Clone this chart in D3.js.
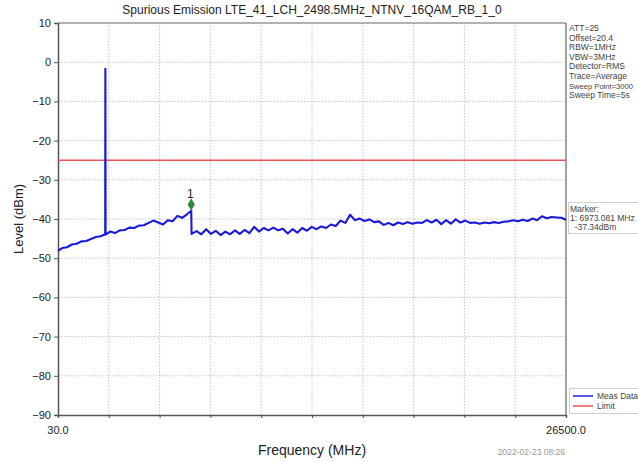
<!DOCTYPE html>
<html><head><meta charset="utf-8">
<script src="https://cdn.jsdelivr.net/npm/d3@7/dist/d3.min.js"></script>
<style>body{margin:0;background:#fff;}svg{display:block;font-family:"Liberation Sans",Arial,sans-serif;}</style>
</head><body><svg id="c" width="638" height="462"></svg>
<script>
const title = "Spurious Emission LTE_41_LCH_2498.5MHz_NTNV_16QAM_RB_1_0";
const freqStart = 30.0, freqStop = 26500.0;
const yTicks = [10, 0, -10, -20, -30, -40, -50, -60, -70, -80, -90];
const limitDbm = -25;
const traceFreq = [30,250,500,750,1000,1250,1500,1750,2000,2250,2490,2498.5,2510,2750,3000,3250,3500,3750,4000,4250,4500,4750,5000,5250,5500,5750,6000,6250,6500,6750,6973.081,6990,
7250,7500,7750,8000,8250,8500,8750,9000,9250,9500,9750,10000,10250,10500,10750,11000,11250,11500,11750,12000,12250,12500,12750,13000,13250,13500,13750,14000,14250,14500,14750,15000,15250,15500,15750,16000,16250,16500,16750,17000,17250,17500,17750,18000,18250,18500,18750,19000,19250,19500,19750,20000,20250,20500,20750,21000,21250,21500,21750,22000,22250,22500,22750,23000,23250,23500,23750,24000,24250,24500,24750,25000,25250,25500,25750,26000,26250,26500];
const traceLevel = [-48.1,-47.4,-47.2,-46.5,-46.3,-45.7,-45.6,-45.1,-44.6,-44.4,-43.9,-1.7,-44.0,-43.2,-43.6,-42.9,-42.8,-42.2,-42.3,-41.7,-41.6,-41.0,-40.4,-40.9,-41.4,-40.3,-40.6,-39.2,-39.7,-38.8,-37.9,-43.8,
-43.1,-43.9,-42.6,-43.8,-43.0,-44.1,-43.2,-43.9,-42.9,-43.8,-42.8,-43.6,-42.0,-43.2,-42.3,-42.9,-42.2,-42.9,-42.5,-43.7,-42.6,-43.5,-42.3,-43.0,-42.0,-42.6,-41.9,-42.3,-41.4,-41.8,-40.4,-41.0,-38.9,-40.3,-39.9,-40.5,-40.1,-40.8,-40.6,-41.5,-41.0,-41.6,-40.9,-41.3,-40.8,-41.2,-40.9,-41.0,-40.3,-40.9,-40.2,-41.3,-40.3,-41.2,-40.1,-40.9,-40.4,-41.0,-40.9,-41.2,-40.9,-41.1,-40.8,-41.0,-40.7,-40.6,-40.3,-40.6,-40.2,-40.5,-39.9,-40.3,-39.3,-39.8,-39.5,-39.6,-39.7,-40.2];
const markerFreq = 6973.081, markerLevel = -37.34;
const infoLines = ["ATT=25","Offset=20.4","RBW=1MHz","VBW=3MHz","Detector=RMS","Trace=Average","Sweep Point=3000","Sweep Time=5s"];
const markerLines = ["Marker:","1: 6973.081 MHz","  -37.34dBm"];
const legendItems = [{name:"Meas Data", color:"#1a1ad8"},{name:"Limit", color:"#e8525a"}];
const timestamp = "2022-02-23 08:26";

const svg = d3.select("#c");
const L = 58, R = 566, T = 23, B = 415;
const x = d3.scaleLinear().domain([freqStart, freqStop]).range([L, R]);
const y = d3.scaleLinear().domain([-90, 10]).range([B, T]);
const xGrid = d3.range(11).map(i => freqStart + i * (freqStop - freqStart) / 10);

// grid
svg.append("g").selectAll("line").data(xGrid.slice(1, -1)).join("line")
  .attr("x1", d => x(d)).attr("x2", d => x(d)).attr("y1", T).attr("y2", B)
  .attr("stroke", "#c8c8c8").attr("stroke-dasharray", "1.5,1.5").attr("stroke-width", 1);
svg.append("g").selectAll("line").data(yTicks.slice(1, -1)).join("line")
  .attr("x1", L).attr("x2", R).attr("y1", d => y(d)).attr("y2", d => y(d))
  .attr("stroke", "#c8c8c8").attr("stroke-dasharray", "1.5,1.5").attr("stroke-width", 1);

// axes
const yAxis = d3.axisLeft(y).tickValues(yTicks).tickSize(4).tickFormat(d3.format("d"));
const gy = svg.append("g").attr("transform", `translate(${L},0)`).call(yAxis);
gy.select(".domain").attr("stroke", "#555").attr("stroke-width", 1.5);
gy.selectAll(".tick line").attr("stroke", "#555");
gy.selectAll(".tick text").attr("font-size", 11).attr("fill", "#222").attr("font-family", "Liberation Sans, Arial, sans-serif");

const xAxis = d3.axisBottom(x).tickValues(xGrid).tickSize(3).tickFormat("");
const gx = svg.append("g").attr("transform", `translate(0,${B})`).call(xAxis);
gx.select(".domain").attr("stroke", "#555").attr("stroke-width", 1.5);
gx.selectAll(".tick line").attr("stroke", "#555");
svg.append("line").attr("x1", L).attr("x2", R).attr("y1", T).attr("y2", T).attr("stroke", "#666").attr("stroke-width", 1.2);
svg.append("line").attr("x1", R).attr("x2", R).attr("y1", T).attr("y2", B).attr("stroke", "#666").attr("stroke-width", 1.2);

svg.append("text").attr("x", x(freqStart)).attr("y", 434).attr("text-anchor", "middle")
  .attr("font-size", 11).attr("fill", "#222").text(freqStart.toFixed(1));
svg.append("text").attr("x", x(freqStop)).attr("y", 434).attr("text-anchor", "middle")
  .attr("font-size", 11).attr("fill", "#222").text(freqStop.toFixed(1));

// limit
svg.append("line").attr("x1", L).attr("x2", R).attr("y1", y(limitDbm)).attr("y2", y(limitDbm))
  .attr("stroke", legendItems[1].color).attr("stroke-width", 1.5);

// trace
const pts = traceFreq.map((f, i) => [f, traceLevel[i]]);
svg.append("path").datum(pts)
  .attr("d", d3.line().x(d => x(d[0])).y(d => y(d[1])))
  .attr("fill", "none").attr("stroke", legendItems[0].color).attr("stroke-width", 2.1).attr("stroke-linejoin", "round");

// marker
const mx = x(markerFreq), my = y(markerLevel) - 4;
svg.append("path").attr("d", d3.symbol(d3.symbolDiamond, 45)())
  .attr("transform", `translate(${mx},${my})`).attr("fill", "#2e8b3a");
svg.append("text").attr("x", mx - 1).attr("y", my - 7).attr("text-anchor", "middle")
  .attr("font-size", 12).attr("fill", "#222").text("1");

// title
svg.append("text").attr("x", (L + R) / 2).attr("y", 14).attr("text-anchor", "middle")
  .attr("font-size", 12).attr("fill", "#222").text(title);

// axis titles
svg.append("text").attr("transform", `translate(23,${(T + B) / 2}) rotate(-90)`).attr("text-anchor", "middle")
  .attr("font-size", 13).attr("fill", "#222").text("Level (dBm)");
svg.append("text").attr("x", (L + R) / 2).attr("y", 455).attr("text-anchor", "middle")
  .attr("font-size", 14).attr("fill", "#222").text("Frequency (MHz)");

// info text
svg.append("g").selectAll("text").data(infoLines).join("text")
  .attr("x", 569).attr("y", (d, i) => 31 + i * 9.6)
  .attr("font-size", d => d.length > 14 ? 7.6 : 8.5).attr("fill", "#444").text(d => d);

// marker box
svg.append("rect").attr("x", 568.5).attr("y", 202.5).attr("width", 70).attr("height", 31)
  .attr("fill", "#fff").attr("stroke", "#d0d0d0");
svg.append("g").selectAll("text").data(markerLines).join("text")
  .attr("x", 570).attr("y", (d, i) => 212 + i * 9)
  .attr("font-size", 8.5).attr("fill", "#444").attr("xml:space", "preserve").style("white-space", "pre").text(d => d);

// legend
svg.append("rect").attr("x", 569.5).attr("y", 388.5).attr("width", 70).attr("height", 25)
  .attr("fill", "#fff").attr("stroke", "#d0d0d0");
const lg = svg.append("g").selectAll("g").data(legendItems).join("g")
  .attr("transform", (d, i) => `translate(573,${396 + i * 10})`);
lg.append("line").attr("x1", 0).attr("x2", 20).attr("stroke", d => d.color).attr("stroke-width", 1.5);
lg.append("text").attr("x", 24).attr("y", 3).attr("font-size", 8.5).attr("fill", "#444").text(d => d.name);

// timestamp
svg.append("text").attr("x", 565).attr("y", 455).attr("text-anchor", "end")
  .attr("font-size", 8.5).attr("fill", "#999").text(timestamp);
</script></body></html>
